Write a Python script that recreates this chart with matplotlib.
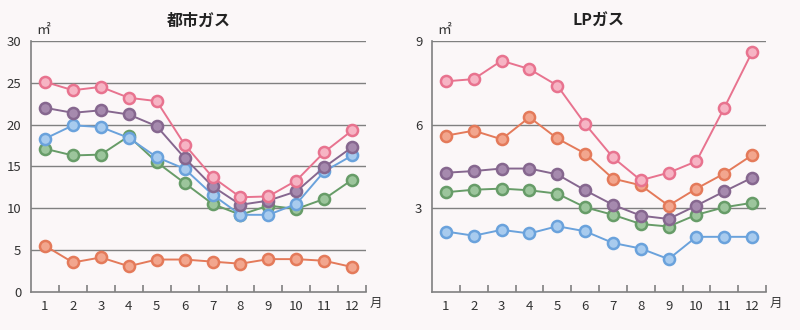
import matplotlib.pyplot as plt

plt.rcParams['font.family'] = ['Noto Sans CJK JP', 'DejaVu Sans']

months = list(range(1, 13))

# 都市ガス (left)
city_pink = [25.1, 24.1, 24.5, 23.2, 22.8, 17.6, 13.7, 11.3, 11.4, 13.3, 16.7, 19.3]
city_purple = [22.0, 21.4, 21.7, 21.2, 19.8, 16.0, 12.6, 10.4, 10.9, 12.0, 14.9, 17.3]
city_blue = [18.3, 19.9, 19.7, 18.4, 16.1, 14.7, 11.6, 9.2, 9.2, 10.5, 14.4, 16.3]
city_green = [17.1, 16.3, 16.4, 18.6, 15.5, 13.0, 10.5, 9.2, 10.3, 9.9, 11.1, 13.4]
city_orange = [5.5, 3.5, 4.1, 3.05, 3.85, 3.85, 3.6, 3.35, 3.9, 3.9, 3.7, 2.95]

# LPガス (right)
lp_pink = [7.55, 7.63, 8.29, 7.99, 7.4, 6.02, 4.82, 4.0, 4.27, 4.68, 6.6, 8.6]
lp_orange = [5.6, 5.78, 5.47, 6.26, 5.5, 4.96, 4.06, 3.82, 3.09, 3.7, 4.24, 4.9]
lp_purple = [4.27, 4.33, 4.42, 4.42, 4.21, 3.64, 3.12, 2.73, 2.61, 3.09, 3.6, 4.09]
lp_green = [3.57, 3.66, 3.7, 3.64, 3.52, 3.03, 2.76, 2.43, 2.34, 2.76, 3.03, 3.19]
lp_blue = [2.16, 2.01, 2.22, 2.09, 2.35, 2.17, 1.75, 1.55, 1.17, 1.97, 1.97, 1.97]

# line colour, marker fill
pink = ('#e8738f', '#f6b4c4')
purple = ('#86678f', '#a68aae')
blue = ('#6aa2dc', '#a8cbee')
green = ('#679c68', '#9cc59c')
orange = ('#e47a5a', '#f2a68e')

bg = '#fbf7f8'
gray = '#808080'

fig = plt.figure(figsize=(8, 3.3), dpi=100, facecolor=bg)
ax1 = fig.add_axes([0.03875, 0.116, 0.419, 0.76])
ax2 = fig.add_axes([0.54, 0.116, 0.4175, 0.76])


def draw(ax, series, ymax, step, title):
    ax.set_facecolor(bg)
    for vals, (lc, fc) in series:
        ax.plot(months, vals, color=lc, lw=1.4, marker='o', ms=8,
                mfc=fc, mec=lc, mew=1.8, zorder=3)
    ax.set_xlim(0.5, 12.5)
    ax.set_ylim(0, ymax)
    for y in range(step, ymax + 1, step):
        ax.axhline(y, color=gray, lw=1.0, zorder=1)
    for s in ['top', 'right']:
        ax.spines[s].set_visible(False)
    for s in ['left', 'bottom']:
        ax.spines[s].set_color(gray)
        ax.spines[s].set_linewidth(1.2)
    ax.set_yticks(range(0, ymax + 1, step))
    ax.tick_params(axis='y', length=0, pad=7, labelsize=9.5, colors='#333333')
    ax.set_xticks(months)
    ax.set_xticklabels([str(m) for m in months])
    ax.tick_params(axis='x', length=0, pad=6, labelsize=9.5, colors='#333333')
    ax.set_xticks([m + 0.5 for m in months], minor=True)
    ax.tick_params(axis='x', which='minor', direction='in', length=5,
                   width=1.2, color=gray)
    ax.text(12.62, -0.02 * ymax, '月', ha='left', va='top', fontsize=9,
            color='#333333')
    ax.text(0.7, ymax * 1.015, '㎡', ha='left', va='bottom', fontsize=10,
            color='#333333')
    ax.set_title(title, fontsize=11.5, fontweight='bold', pad=11,
                 color='#222222')


draw(ax1, [(city_orange, orange), (city_green, green), (city_blue, blue),
           (city_purple, purple), (city_pink, pink)], 30, 5, '都市ガス')
draw(ax2, [(lp_blue, blue), (lp_green, green), (lp_purple, purple),
           (lp_orange, orange), (lp_pink, pink)], 9, 3, 'LPガス')
ax2.set_yticklabels(['', '3', '6', '9'])

fig.savefig('out.png', dpi=100, facecolor=bg)
